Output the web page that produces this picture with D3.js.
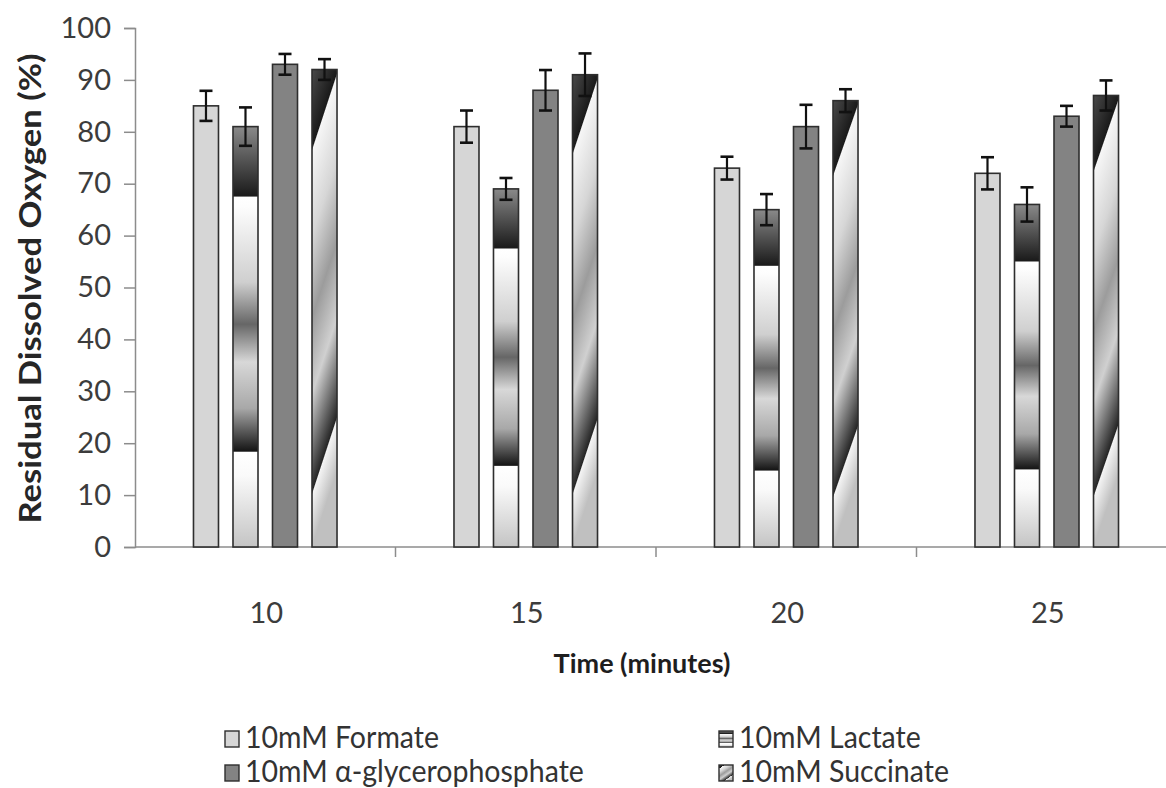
<!DOCTYPE html>
<html>
<head>
<meta charset="utf-8">
<script src="https://cdn.jsdelivr.net/npm/d3@7/dist/d3.min.js"></script>
<style>
  body { margin: 0; background: #fff; }
  text { font-family: Lato, "Open Sans", sans-serif; }
</style>
</head>
<body>
<div id="chart"></div>
<script>
// data
var times = ["10", "15", "20", "25"];
var series = ["10mM Formate", "10mM Lactate", "10mM \u03b1-glycerophosphate", "10mM Succinate"];
var formate   = [85, 81, 73, 72];
var lactate   = [81, 69, 65, 66];
var glycero   = [93, 88, 81, 83];
var succinate = [92, 91, 86, 87];
var formateErr   = [2.9, 3.1, 2.2, 3.1];
var lactateErr   = [3.7, 2.1, 3.0, 3.3];
var glyceroErr   = [2.0, 3.9, 4.2, 2.0];
var succinateErr = [2.0, 4.1, 2.2, 2.9];
var yTicks = [0, 10, 20, 30, 40, 50, 60, 70, 80, 90, 100];

var values = [formate, lactate, glycero, succinate];
var errors = [formateErr, lactateErr, glyceroErr, succinateErr];
var fills = ["#d6d6d6", "url(#lact)", "#838383", "succ"];

var width = 1166, height = 788;
var x0 = 135, step = 260.5, yBase = 547, yTop = 28;

var svg = d3.select('#chart').append('svg')
    .attr('width', width)
    .attr('height', height);

var defs = svg.append('defs');

// banded vertical gradient for lactate
var lact = defs.append('linearGradient').attr('id', 'lact')
    .attr('x1', 0).attr('y1', 1).attr('x2', 0).attr('y2', 0);
[[0, '#c4c4c4'], [0.17, '#fafafa'], [0.225, '#ffffff'], [0.228, '#151515'],
 [0.33, '#a8a8a8'], [0.44, '#d8d8d8'], [0.53, '#666'], [0.63, '#cfcfcf'],
 [0.81, '#fdfdfd'], [0.832, '#ffffff'], [0.835, '#1a1a1a'], [1, '#8a8a8a']]
  .forEach(function(s) { lact.append('stop').attr('offset', s[0]).attr('stop-color', s[1]); });

// diagonal gradient for succinate, one per rect so the slant follows the rect
var succStops = [[0, '#4a4a4a'], [0.165, '#1a1a1a'], [0.172, '#f6f6f6'], [0.35, '#d6d6d6'],
 [0.52, '#9c9c9c'], [0.68, '#d0d0d0'], [0.885, '#262626'], [0.892, '#f4f4f4'], [1, '#c0c0c0']];
var succCount = 0;
function succFill(bx, by, bw, bh) {
    var id = 'succ' + (succCount++);
    var a = 0.16;
    var s = bh * bw / (a * a * bh * bh + bw * bw);
    var g = defs.append('linearGradient').attr('id', id)
        .attr('gradientUnits', 'userSpaceOnUse')
        .attr('x1', bx).attr('y1', by)
        .attr('x2', bx + s * a * bh).attr('y2', by + s * bw);
    succStops.forEach(function(st) { g.append('stop').attr('offset', st[0]).attr('stop-color', st[1]); });
    return 'url(#' + id + ')';
}

// small diagonal gradient for the succinate legend swatch
var lg3 = defs.append('linearGradient').attr('id', 'lg3')
    .attr('x1', 0).attr('y1', 0).attr('x2', 0.6).attr('y2', 1);
succStops.forEach(function(st) { lg3.append('stop').attr('offset', st[0]).attr('stop-color', st[1]); });

var x = d3.scaleBand()
    .domain(times)
    .range([x0, x0 + step * times.length]);

var x1 = d3.scaleBand()
    .domain(d3.range(series.length))
    .range([-79, 79])
    .paddingInner(0.367)
    .paddingOuter(0.183);

var y = d3.scaleLinear()
    .domain([0, 100])
    .range([yBase, yTop]);

// y axis
var yAxis = svg.append('g')
    .attr('transform', 'translate(' + x0 + ',0)')
    .call(d3.axisLeft(y).tickValues(yTicks).tickSize(11).tickPadding(13));
yAxis.select('.domain').attr('stroke', '#8c8c8c').attr('stroke-width', 1.5);
yAxis.selectAll('.tick line').attr('stroke', '#8c8c8c').attr('stroke-width', 1.5);
yAxis.selectAll('.tick text')
    .attr('font-size', '29px').attr('fill', '#3c3c3c')
    .style('font-family', 'Lato, sans-serif');

// x axis
var xAxisG = svg.append('g')
    .attr('transform', 'translate(0,' + yBase + ')');
xAxisG.append('line')
    .attr('x1', x0).attr('x2', width)
    .attr('y1', 0).attr('y2', 0)
    .attr('stroke', '#8c8c8c').attr('stroke-width', 1.5);
xAxisG.selectAll('.xtick')
    .data(times.slice(1))
    .enter().append('line')
    .attr('x1', function(d) { return x(d); })
    .attr('x2', function(d) { return x(d); })
    .attr('y1', 0).attr('y2', 10)
    .attr('stroke', '#8c8c8c').attr('stroke-width', 1.5);
xAxisG.selectAll('.xlabel')
    .data(times)
    .enter().append('text')
    .attr('x', function(d) { return x(d) + x.bandwidth() / 2 + 1; })
    .attr('y', 76)
    .attr('text-anchor', 'middle')
    .attr('font-size', '29px')
    .attr('fill', '#3c3c3c')
    .text(function(d) { return d; });

// bars + error bars
var groups = svg.selectAll('.group')
    .data(times)
    .enter().append('g')
    .attr('class', 'group')
    .attr('transform', function(d) { return 'translate(' + (x(d) + x.bandwidth() / 2) + ',0)'; });

groups.each(function(t, ti) {
    var g = d3.select(this);
    series.forEach(function(s, si) {
        var v = values[si][ti], e = errors[si][ti];
        var bx = x1(si), bw = x1.bandwidth();
        var by = y(v), bh = yBase - y(v);
        g.append('rect')
            .attr('x', bx)
            .attr('y', by)
            .attr('width', bw)
            .attr('height', bh)
            .attr('fill', fills[si] === 'succ' ? succFill(bx, by, bw, bh) : fills[si])
            .attr('stroke', '#2e2e2e')
            .attr('stroke-width', 1.6);
        var cx = bx + bw / 2;
        g.append('line')
            .attr('x1', cx).attr('x2', cx)
            .attr('y1', y(v + e)).attr('y2', y(v - e))
            .attr('stroke', '#111').attr('stroke-width', 2.2);
        [v + e, v - e].forEach(function(c) {
            g.append('line')
                .attr('x1', cx - 6.5).attr('x2', cx + 6.5)
                .attr('y1', y(c)).attr('y2', y(c))
                .attr('stroke', '#111').attr('stroke-width', 2.6);
        });
    });
});

// axis titles
svg.append('text')
    .attr('transform', 'translate(41,' + ((yBase + yTop) / 2 + 1) + ') rotate(-90)')
    .attr('text-anchor', 'middle')
    .attr('font-size', '31px')
    .attr('font-weight', 'bold')
    .attr('fill', '#262626')
    .attr('textLength', 470)
    .attr('lengthAdjust', 'spacingAndGlyphs')
    .text('Residual Dissolved Oxygen (%)');

svg.append('text')
    .attr('x', 642)
    .attr('y', 673)
    .attr('text-anchor', 'middle')
    .attr('font-size', '27px')
    .attr('font-weight', 'bold')
    .attr('fill', '#1e1e1e')
    .text('Time (minutes)');

// legend
var legend = svg.selectAll('.legend')
    .data(series)
    .enter().append('g')
    .attr('class', 'legend')
    .attr('transform', function(d, i) {
        return 'translate(' + (i % 2 === 0 ? 225 : 719) + ',' + (731 + Math.floor(i / 2) * 34) + ')';
    });
legend.append('rect')
    .attr('width', 14).attr('height', 16)
    .attr('fill', function(d, i) { return fills[i] === 'succ' ? 'url(#lg3)' : fills[i]; })
    .attr('stroke', '#2e2e2e').attr('stroke-width', 1.4);
legend.append('g')
    .attr('transform', 'translate(20,17) scale(0.92,1)')
    .append('text')
    .attr('font-size', '31px')
    .attr('fill', '#333')
    .text(function(d) { return d; });
</script>
</body>
</html>
